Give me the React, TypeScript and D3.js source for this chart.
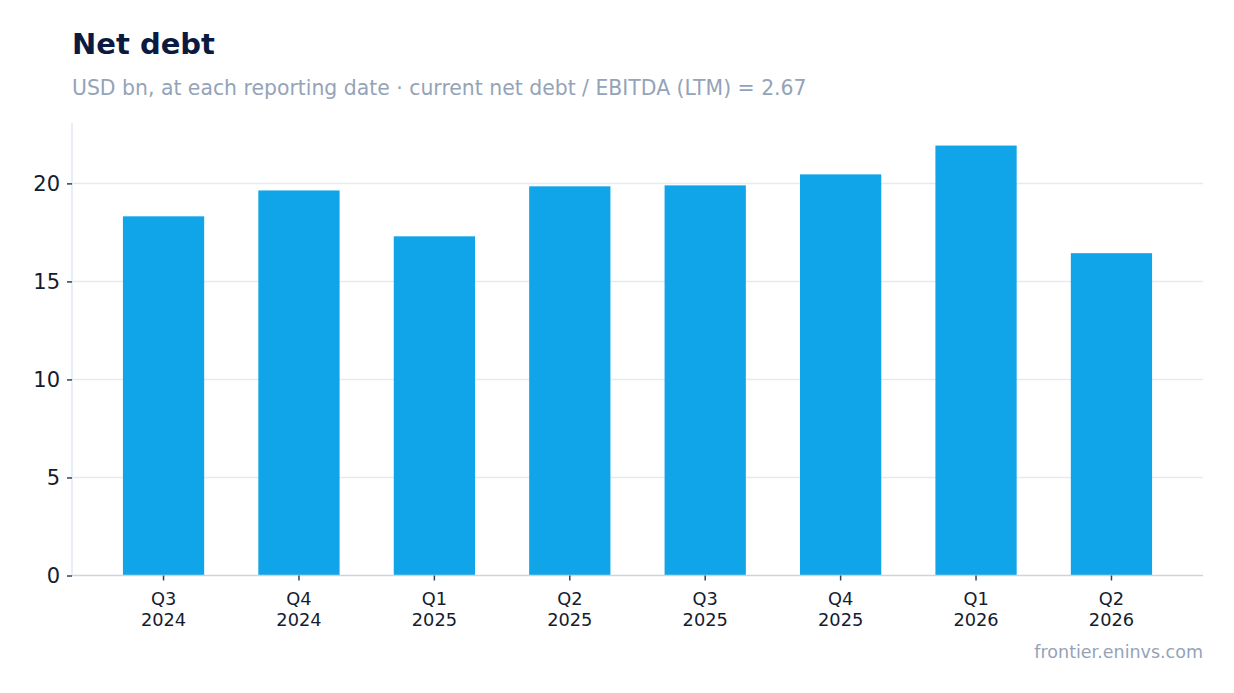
import React, { useEffect, useRef } from 'react';
import * as d3 from 'd3';

const quarters = ['Q3', 'Q4', 'Q1', 'Q2', 'Q3', 'Q4', 'Q1', 'Q2'];
const years = ['2024', '2024', '2025', '2025', '2025', '2025', '2026', '2026'];
const netDebt = [18.32, 19.64, 17.3, 19.85, 19.9, 20.46, 21.93, 16.44];
const yTicks = [0, 5, 10, 15, 20];

const W = 1234;
const H = 693;

const App: React.FC = () => {
  const ref = useRef<SVGSVGElement | null>(null);

  useEffect(() => {
    const margin = { top: 123, right: 31, bottom: 117.5, left: 72 };
    const width = W - margin.left - margin.right;
    const height = H - margin.top - margin.bottom;

    const root = d3.select(ref.current);
    root.selectAll('*').remove();
    root.attr('width', W).attr('height', H);

    const font = '"DejaVu Sans", sans-serif';

    root.append('text')
      .attr('x', 72).attr('y', 54)
      .attr('font-family', font).attr('font-size', 29).attr('font-weight', 'bold')
      .attr('fill', '#0b1a40')
      .text('Net debt');

    root.append('text')
      .attr('x', 72).attr('y', 95)
      .attr('font-family', font).attr('font-size', 20.4)
      .attr('fill', '#94a3b8')
      .text('USD bn, at each reporting date · current net debt / EBITDA (LTM) = 2.67');

    root.append('text')
      .attr('x', 1203).attr('y', 658)
      .attr('text-anchor', 'end')
      .attr('font-family', font).attr('font-size', 17.5)
      .attr('fill', '#94a3b8')
      .text('frontier.eninvs.com');

    const g = root.append('g').attr('transform', `translate(${margin.left},${margin.top})`);

    const idx = netDebt.map((_, i) => i);
    const x = d3.scaleBand<number>()
      .domain(idx)
      .range([0, width])
      .paddingInner(0.4)
      .paddingOuter(0.376);

    const y = d3.scaleLinear().domain([0, 23.08]).range([height, 0]);

    // gridlines
    g.append('g')
      .selectAll('line')
      .data(yTicks.filter(t => t > 0))
      .enter().append('line')
      .attr('x1', 0).attr('x2', width)
      .attr('y1', d => y(d)).attr('y2', d => y(d))
      .attr('stroke', '#e5e9f0').attr('stroke-width', 1.5);

    // left axis line
    g.append('line')
      .attr('x1', 0).attr('x2', 0).attr('y1', 0).attr('y2', height)
      .attr('stroke', '#e2e8f0').attr('stroke-width', 1.5);

    g.selectAll('.bar')
      .data(netDebt)
      .enter().append('rect')
      .attr('class', 'bar')
      .attr('x', (_, i) => x(i)!)
      .attr('width', x.bandwidth())
      .attr('y', d => y(d))
      .attr('height', d => height - y(d))
      .attr('fill', '#10a5e8');

    // baseline
    g.append('line')
      .attr('x1', 0).attr('x2', width).attr('y1', height).attr('y2', height)
      .attr('stroke', '#cbd5e1').attr('stroke-width', 1.5);

    const yAxis = g.append('g')
      .call(d3.axisLeft(y).tickValues(yTicks).tickSize(5).tickPadding(7));
    yAxis.select('.domain').remove();
    yAxis.selectAll('line').attr('stroke', '#334155').attr('stroke-width', 1.5);
    yAxis.selectAll('text')
      .attr('font-family', font).attr('font-size', 21).attr('fill', '#141c30');

    const xAxis = g.append('g')
      .attr('transform', `translate(0,${height})`)
      .call(d3.axisBottom(x).tickSize(5).tickFormat(() => ''));
    xAxis.select('.domain').remove();
    xAxis.selectAll('line').attr('stroke', '#334155').attr('stroke-width', 1.5);
    xAxis.selectAll<SVGGElement, number>('.tick').each(function (i) {
      const t = d3.select(this).select('text')
        .attr('font-family', font).attr('font-size', 17.8).attr('fill', '#141c30')
        .attr('y', 0).attr('dy', null);
      t.append('tspan').attr('x', 0).attr('y', 29).text(quarters[i]);
      t.append('tspan').attr('x', 0).attr('y', 50).text(years[i]);
    });
  }, []);

  return (
    <svg ref={ref} style={{ position: 'absolute', left: 0, top: 0, background: '#fff' }} />
  );
};

export default App;
